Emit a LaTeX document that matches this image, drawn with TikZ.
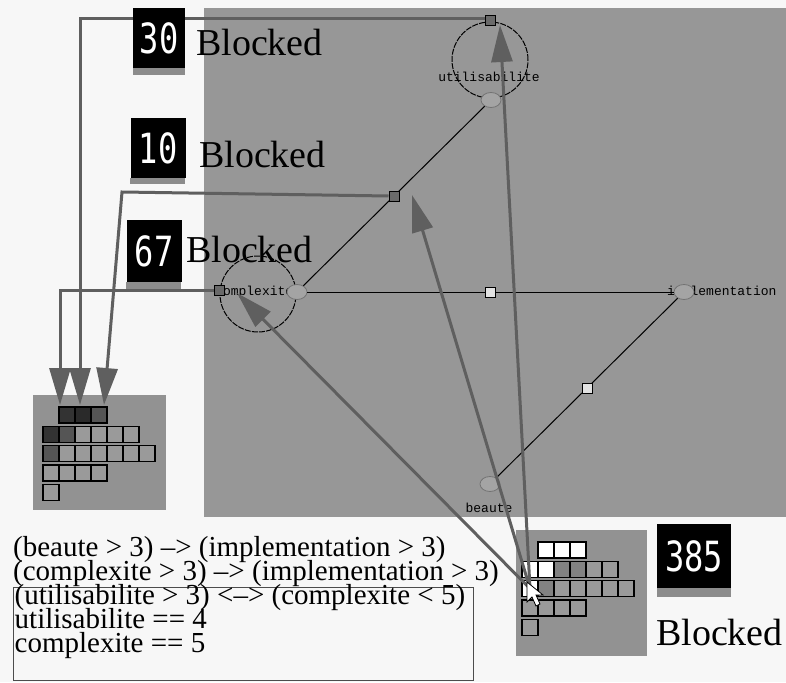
\documentclass[tikz,border=0pt]{standalone}
\usepackage{fontspec}
\usepackage{graphicx}
\setmainfont{Liberation Serif}
\newfontfamily\fixedfont{Liberation Mono}
\newfontfamily\ledfont{DejaVu Sans Mono}
\usetikzlibrary{shapes.geometric,positioning,arrows.meta}

\definecolor{paper}{HTML}{F7F7F7}
\definecolor{canvas}{HTML}{979797}
\definecolor{panel}{HTML}{929292}
\definecolor{cellgrey}{HTML}{9A9A9A}
\definecolor{vargrey}{HTML}{A4A4A4}
\definecolor{linkgrey}{HTML}{5F5F5F}
\definecolor{strip}{HTML}{8C8C8C}
\definecolor{dark}{HTML}{333333}
\definecolor{darker}{HTML}{2A2A2A}
\definecolor{mid}{HTML}{555555}
\definecolor{shaded}{HTML}{828282}
\definecolor{sqdark}{HTML}{6A6A6A}
\definecolor{sqlight}{HTML}{E2E2E2}

\newcommand{\led}[1]{\scalebox{1}[1.3]{#1}}
\newcommand{\rulefont}{\fontsize{29}{24}\selectfont\lineskiplimit=-\maxdimen}

\begin{document}
\begin{tikzpicture}
  [
    x=1pt, y=-1pt,
    cell/.style={draw, line width=1.4pt, fill=cellgrey, minimum size=16pt, inner sep=0pt},
    ring/.style={circle, draw, line width=1pt, dash pattern=on 6pt off 1.2pt, minimum size=76pt, inner sep=0pt},
    var/.style={ellipse, draw=black!55, line width=0.8pt, fill=vargrey, minimum width=20pt, minimum height=15pt, inner sep=0pt},
    varname/.style={font=\fixedfont\fontsize{13}{13}\selectfont, inner sep=0pt},
    sq/.style={rectangle, draw, line width=1pt, minimum size=10pt, inner sep=0pt},
    rel/.style={line width=1pt},
    link/.style={draw=linkgrey, line width=3pt, -{Triangle[length=37pt,width=21pt]}},
    counter/.style={fill=black, text=white, font=\ledfont\fontsize{32}{32}\selectfont, inner sep=0pt},
    blocked/.style={font=\fontsize{38}{38}\selectfont, inner sep=0pt, anchor=west},
    rule/.style={font=\rulefont, align=left, inner sep=0pt, anchor=base west},
  ]
  \useasboundingbox (0,0) rectangle (786,682);
  \fill[paper] (0,0) rectangle (786,682);
  \fill[canvas] (204,8) rectangle (786,517);
  \fill[panel] (33,395) rectangle (166,510);
  \fill[panel] (516,530) rectangle (647,656);

  % value histograms
  \foreach \row/\col/\shade in {1/2/dark,1/3/darker,1/4/mid,
      2/1/dark,2/2/mid,2/3/cellgrey,2/4/cellgrey,2/5/cellgrey,2/6/cellgrey,
      3/1/mid,3/2/cellgrey,3/3/cellgrey,3/4/cellgrey,3/5/cellgrey,3/6/cellgrey,3/7/cellgrey,
      4/1/cellgrey,4/2/cellgrey,4/3/cellgrey,4/4/cellgrey,
      5/1/cellgrey}
    \node[cell, fill=\shade] (l-\row-\col) at ({35+16*\col}, {395.7+19.3*\row}) {};
  \foreach \row/\col/\shade in {1/2/white,1/3/white,1/4/white,
      2/1/white,2/2/white,2/3/shaded,2/4/shaded,2/5/cellgrey,2/6/cellgrey,
      3/1/white,3/2/shaded,3/3/cellgrey,3/4/cellgrey,3/5/cellgrey,3/6/cellgrey,3/7/cellgrey,
      4/1/cellgrey,4/2/cellgrey,4/3/cellgrey,4/4/cellgrey,
      5/1/cellgrey}
    \node[cell, fill=\shade] (b-\row-\col) at ({514+16*\col}, {530.7+19.3*\row}) {};

  % variables
  \node[ring] (uring) at (490,60) {};
  \node[ring] (cring) at (258,294) {};
  \node[varname] (ulabel) at (489,77) {utilisabilite};
  \node[varname, anchor=west] (clabel) at (215,292) {complexite};
  \node[varname, anchor=west] (ilabel) at (667,292) {implementation};
  \node[varname] (blabel) at (489,508) {beaute};
  \node[var] (util) at (491,100) {};
  \node[var] (cplx) at (297,292) {};
  \node[var] (impl) at (684,292) {};
  \node[var] (beau) at (490,484) {};
  \path[rel]
    (cplx) edge node[sq, fill=sqdark] (msq) {} (util)
    (cplx) edge node[sq, fill=sqlight] (hsq) {} (impl)
    (impl) edge node[sq, fill=sqlight] (isq) {} (beau);
  \node[sq, fill=sqdark] (usq) at (490,21) {};
  \node[sq, fill=sqdark] (csq) at (219,290) {};

  % links to the left histogram
  \coordinate (inA) at (60,405);
  \coordinate (inB) at (80,405);
  \coordinate (bend) at (122,192);
  \coordinate (inC) at (104,405);
  \draw[link] (csq.west) -| (inA);
  \draw[link] ([yshift=2pt]usq.west) -| (inB);
  \draw[link] (msq.west) -- (bend) -- (inC);

  % counters
  \node[counter, minimum width=52pt, minimum height=60pt] (c30) at (159,38) {\led{30}};
  \fill[strip] (c30.south west) rectangle ++(52,7);
  \node[counter, minimum width=55pt, minimum height=60pt] (c10) at (158,148) {\led{10}};
  \fill[strip] (c10.south west) rectangle ++(55,6);
  \node[counter, minimum width=55pt, minimum height=62pt] (c67) at (154,251) {\led{67}};
  \fill[strip] (c67.south west) rectangle ++(55,7);
  \node[counter, minimum width=74pt, minimum height=64pt] (c385) at (694,556) {\led{385}};
  \fill[strip] (c385.south west) rectangle ++(74,9);
  \node[blocked] (b30) at (196,43) {Blocked};
  \node[blocked] (b10) at (199,155) {Blocked};
  \node[blocked] (b67) at (186,250) {Blocked};
  \node[blocked] (b385) at (656,632) {Blocked};

  % links from the right histogram
  \coordinate (utip) at (500,25);
  \coordinate (mtip) at (412,195);
  \coordinate (ctip) at (237,293);
  \draw[link] (b-3-1.center) -- (utip);
  \draw[link] (b-3-1.center) -- (mtip);
  \draw[link] (b-3-1.center) -- (ctip);
  \filldraw[fill=white, draw=black, line width=0.8pt]
    (527,582) -- (527,602) -- (532,597) -- (536,606) -- (540,604) -- (536,595) -- (543,595) -- cycle;

  % constraints
  \node[rule] (rules) at (13,580)
    {(beaute > 3) --> (implementation > 3)\\(complexite > 3) --> (implementation > 3)};
  \node[draw=black!70, line width=1.3pt, minimum width=460pt, minimum height=93pt,
    inner sep=0pt, anchor=north west] (frame) at (13,587) {};
  \node[rule, below right=65pt and 1.5pt of frame.north west, anchor=base west] (constraints)
    {(utilisabilite > 3) <--> (complexite < 5)\\utilisabilite == 4\\complexite == 5};
\end{tikzpicture}
\end{document}
